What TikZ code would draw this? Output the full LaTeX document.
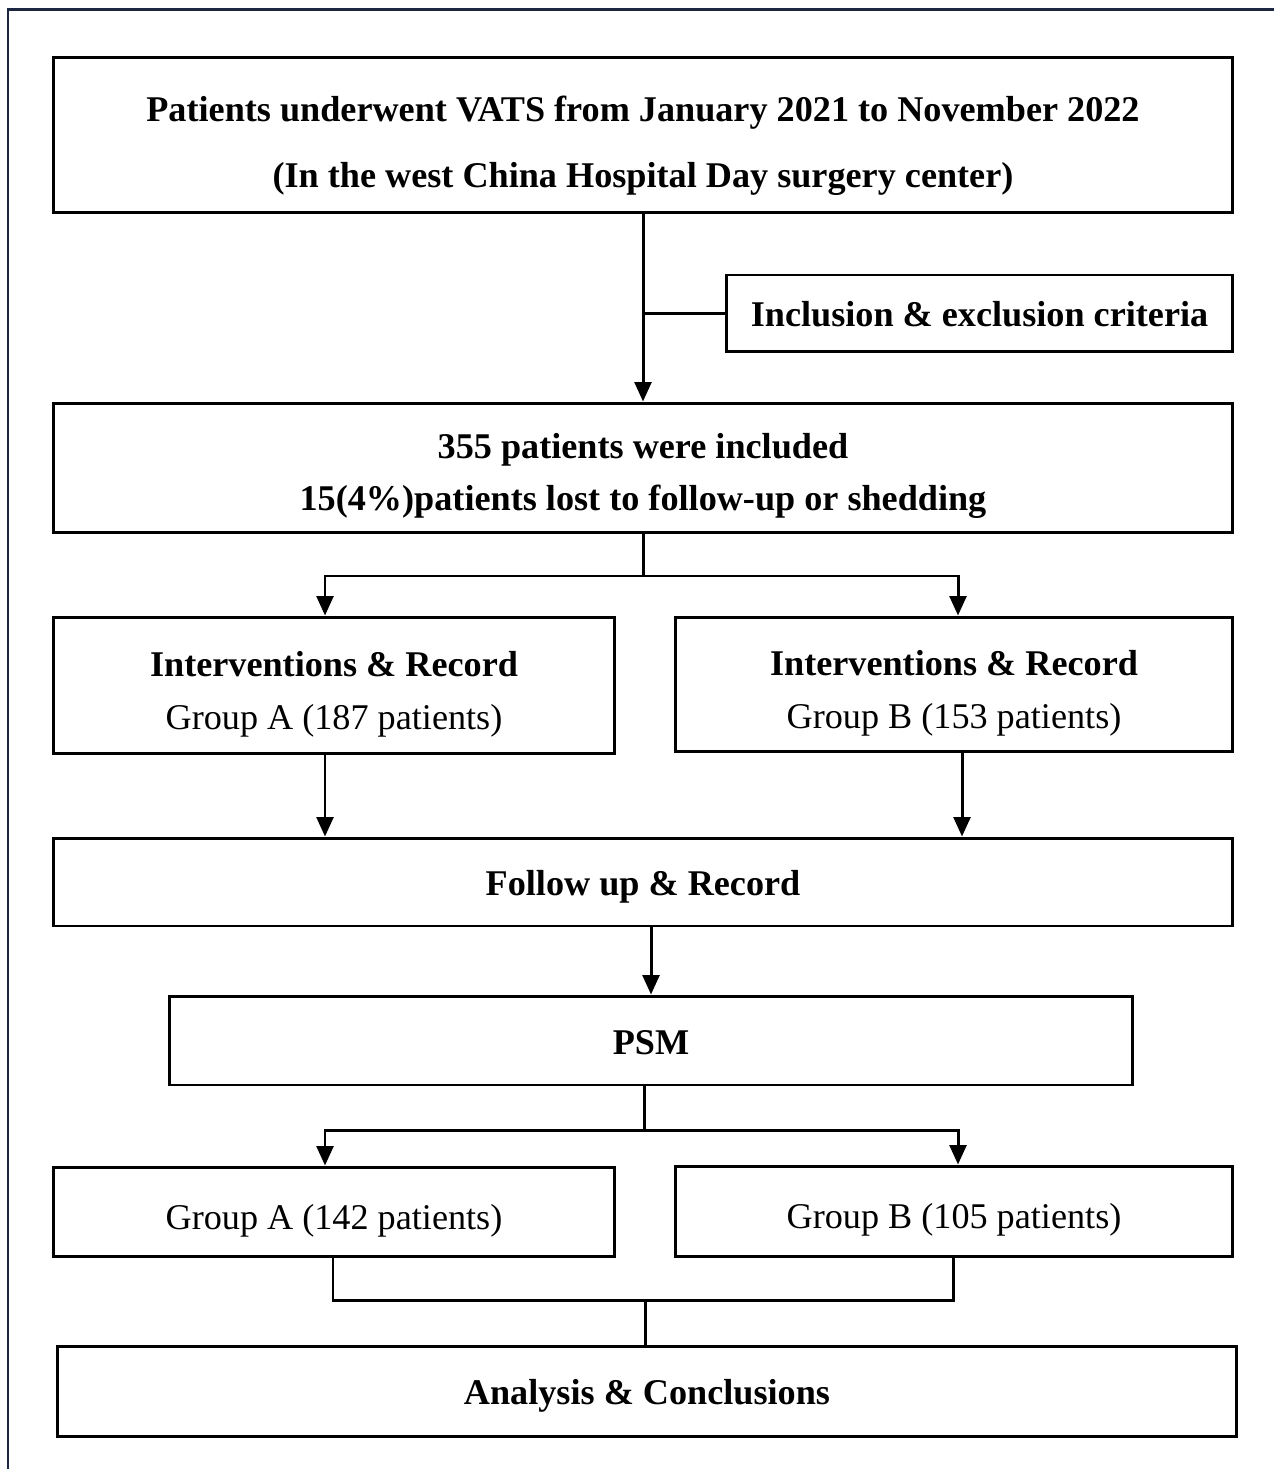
\documentclass[tikz,border=0pt]{standalone}
\usepackage{fontspec}
\setmainfont{Liberation Serif}
\usetikzlibrary{arrows.meta}
\definecolor{framenavy}{HTML}{1E2742}
\tikzset{
  box/.style={draw=black, line width=1.7pt, rectangle, inner sep=0pt},
  txt/.style={anchor=base, inner sep=0pt, font=\fontsize{20.6}{24}\selectfont},
  btxt/.style={txt, font=\fontsize{20.6}{24}\selectfont\bfseries},
  conn/.style={line width=1.7pt, line join=miter},
  arr/.style={conn, -{Triangle[length=11pt,width=9.5pt]}}
}
\begin{document}
\begin{tikzpicture}[x=0.02cm,y=-0.02cm]
\useasboundingbox (0,0) rectangle (1274,1469);
% outer frame (only top and left edges visible)
\draw[framenavy, line width=1.7pt] (8,1469) -- (8,10) -- (1274,10);

% boxes
\node[box, minimum width=23.6cm, minimum height=3.12cm] (top) at (643,135) {};
\node[box, minimum width=10.14cm, minimum height=1.54cm] (incl) at (979.5,313.5) {};
\node[box, minimum width=23.6cm, minimum height=2.6cm] (incl355) at (643,468) {};
\node[box, minimum width=11.24cm, minimum height=2.74cm] (ga) at (334,685.5) {};
\node[box, minimum width=11.16cm, minimum height=2.7cm] (gb) at (954,684.5) {};
\node[box, minimum width=23.6cm, minimum height=1.76cm] (fu) at (643,882) {};
\node[box, minimum width=19.28cm, minimum height=1.78cm] (psm) at (651,1040.5) {};
\node[box, minimum width=11.24cm, minimum height=1.78cm] (ga2) at (334,1211.5) {};
\node[box, minimum width=11.16cm, minimum height=1.8cm] (gb2) at (954,1211) {};
\node[box, minimum width=23.6cm, minimum height=1.8cm] (an) at (647,1391) {};

% texts
\node[btxt] (t1a) at (643,122) {Patients underwent VATS from January 2021 to November 2022};
\node[btxt] (t1b) at (643,188) {(In the west China Hospital Day surgery center)};
\node[btxt] (t2) at (979.5,327) {Inclusion \& exclusion criteria};
\node[btxt] (t3a) at (643,458) {355 patients were included};
\node[btxt] (t3b) at (643,510) {15(4\%)patients lost to follow-up or shedding};
\node[btxt] (t4a) at (334,676) {Interventions \& Record};
\node[txt] (t4b) at (334,729) {Group A (187 patients)};
\node[btxt] (t5a) at (954,675) {Interventions \& Record};
\node[txt] (t5b) at (954,728) {Group B (153 patients)};
\node[btxt] (t6) at (643,895) {Follow up \& Record};
\node[btxt] (t7) at (651,1054) {PSM};
\node[txt] (t8) at (334,1229) {Group A (142 patients)};
\node[txt] (t9) at (954,1228) {Group B (105 patients)};
\node[btxt] (t10) at (647,1404) {Analysis \& Conclusions};

% connector coordinates
\coordinate (c1) at (643,576);
\coordinate (c1a) at (325,576);
\coordinate (c1b) at (958,576);
\coordinate (d2) at (962,754);
\coordinate (c2) at (644,1130);
\coordinate (c2a) at (325,1130);
\coordinate (c2b) at (958,1130);
\coordinate (e1) at (333,1300);
\coordinate (e2) at (953,1300);
\coordinate (e3) at (645,1300);

% connectors
\draw[arr] (top.south) -- (incl355.north);
\draw[conn] (top.south |- incl.west) -- (incl.west);

\draw[conn] (incl355.south) -- (c1);
\draw[arr] (c1) -- (c1a) -- (c1a |- ga.north);
\draw[arr] (c1) -- (c1b) -- (c1b |- gb.north);

\draw[arr] (c1a |- ga.south) -- (c1a |- fu.north);
\draw[arr] (d2 |- gb.south) -- (d2 |- fu.north);

\draw[arr] (psm.north |- fu.south) -- (psm.north);

\draw[conn] (c2 |- psm.south) -- (c2);
\draw[arr] (c2) -- (c2a) -- (c2a |- ga2.north);
\draw[arr] (c2) -- (c2b) -- (c2b |- gb2.north);

\draw[conn] (e1 |- ga2.south) -- (e1) -- (e2) -- (e2 |- gb2.south);
\draw[conn] (e3) -- (e3 |- an.north);
\end{tikzpicture}
\end{document}
